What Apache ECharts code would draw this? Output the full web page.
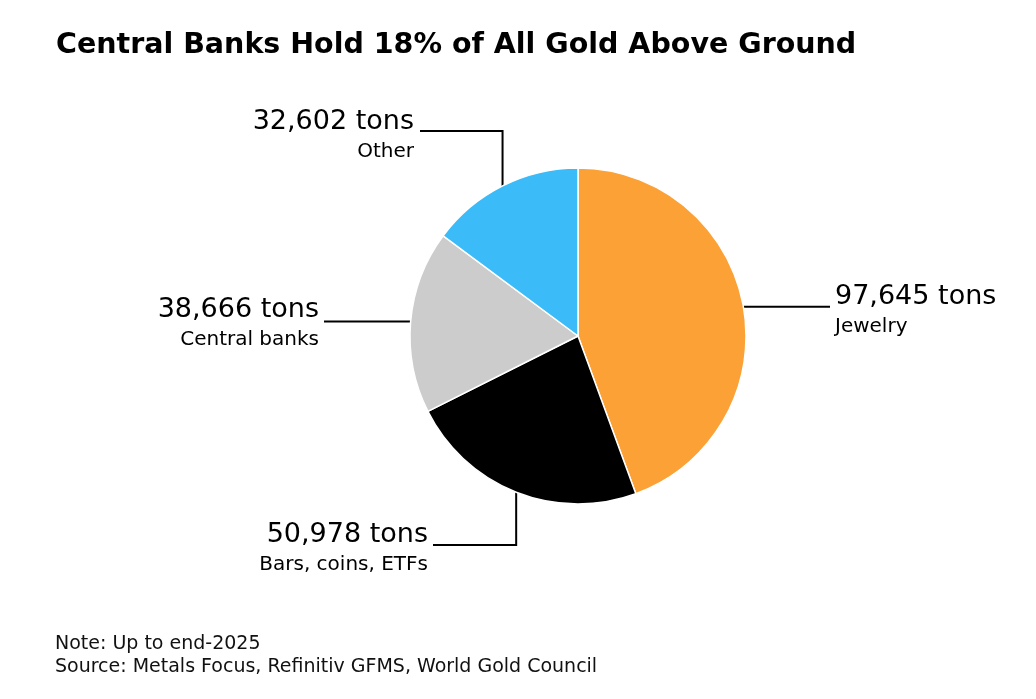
<!DOCTYPE html>
<html>
<head>
<meta charset="utf-8">
<script src="https://cdn.jsdelivr.net/npm/echarts@6/dist/echarts.min.js"></script>
<style>
html,body{margin:0;padding:0;background:#fff;}
#chart{width:1036px;height:699px;}
</style>
</head>
<body>
<div id="chart"></div>
<script>
const categories = ['Jewelry', 'Bars, coins, ETFs', 'Central banks', 'Other'];
const values = [97645, 50978, 38666, 32602];
const valueLabels = ['97,645 tons', '50,978 tons', '38,666 tons', '32,602 tons'];
const colors = ['#FBA136', '#000000', '#CCCCCC', '#3BBBF7'];

const FONT = '"DejaVu Sans", Inter, sans-serif';

// label placement per category (layout, not data)
const labelPlace = {
  'Jewelry':          {x: 835, y: 280, align: 'left',  line: p => [p, [830, p[1]]]},
  'Bars, coins, ETFs':{x: 428, y: 518, align: 'right', line: p => [p, [p[0], 545], [433, 545]]},
  'Central banks':    {x: 319, y: 293, align: 'right', line: p => [p, [324, p[1]]]},
  'Other':            {x: 414, y: 105, align: 'right', line: p => [p, [p[0], 131], [420, 131]]}
};

const data = categories.map((c, i) => ({
  name: c,
  value: values[i],
  itemStyle: {color: colors[i]},
  label: {
    formatter: '{v|' + valueLabels[i] + '}\n{n|' + c + '}',
    rich: {
      v: {fontSize: 27, fontFamily: FONT, color: '#000', align: labelPlace[c].align, lineHeight: 33},
      n: {fontSize: 20, fontFamily: FONT, color: '#000', align: labelPlace[c].align, lineHeight: 27}
    }
  }
}));

const chart = echarts.init(document.getElementById('chart'), null, {renderer: 'canvas'});
chart.setOption({
  animation: false,
  backgroundColor: '#ffffff',
  title: {
    text: 'Central Banks Hold 18% of All Gold Above Ground',
    left: 51, top: 26,
    textStyle: {fontSize: 28.5, fontWeight: 'bold', fontFamily: FONT, color: '#000'}
  },
  graphic: [
    {type: 'text', left: 55, top: 635, style: {text: 'Note: Up to end-2025', fontSize: 19, fontFamily: FONT, fill: '#111'}},
    {type: 'text', left: 55, top: 658, style: {text: 'Source: Metals Focus, Refinitiv GFMS, World Gold Council', fontSize: 19, fontFamily: FONT, fill: '#111'}}
  ],
  series: [{
    type: 'pie',
    center: [578, 336],
    radius: [0, 168],
    startAngle: 90,
    clockwise: true,
    silent: true,
    itemStyle: {borderColor: '#fff', borderWidth: 1.5},
    label: {show: true, position: 'outside'},
    labelLine: {show: true, lineStyle: {color: '#000', width: 2}},
    emphasis: {disabled: true},
    labelLayout: function (params) {
      const c = categories[params.dataIndex];
      const pl = labelPlace[c];
      const p0 = params.labelLinePoints ? params.labelLinePoints[0] : null;
      const out = {x: pl.x, y: pl.y, align: pl.align, verticalAlign: 'top'};
      if (p0) out.labelLinePoints = pl.line([p0[0], p0[1]]);
      return out;
    },
    data: data
  }]
});
</script>
</body>
</html>
